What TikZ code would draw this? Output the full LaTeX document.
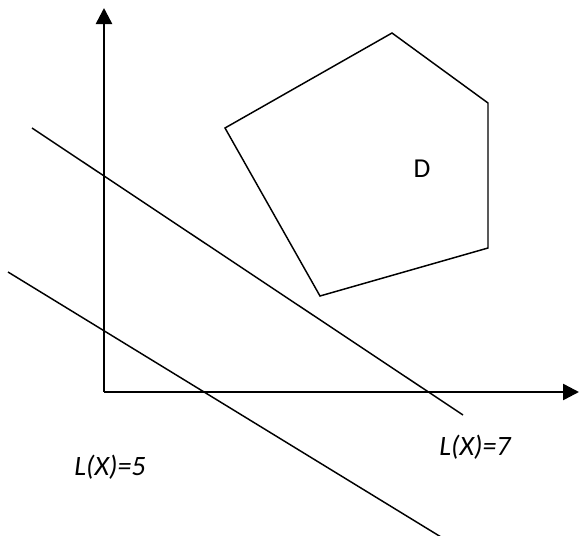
\documentclass[tikz,border=0pt]{standalone}
\usepackage{fontspec}
\setmainfont{Carlito}
\usetikzlibrary{arrows.meta}

\begin{document}
\begin{tikzpicture}[
        x=0.75pt, y=-0.75pt,
        font=\fontsize{20.5}{24}\selectfont,
        axis/.style={
            line width=1.9pt,
            -{Triangle[length=12pt,width=12pt]}
        },
        level/.style={line width=1.1pt},
        region/.style={line width=1.1pt, line join=miter},
        label/.style={font=\fontsize{21}{25}\selectfont\itshape, inner sep=0pt}
    ]

    \useasboundingbox (0,0) rectangle (579,536);

    % axes
    \coordinate (origin) at (104,392);
    \coordinate (ytop) at (104,8);
    \coordinate (xend) at (579,392);
    \draw[axis] (origin) -- (ytop);
    \draw[axis] (origin) -- (xend);

    % feasible region D
    \coordinate (p1) at (225,128);
    \coordinate (p2) at (392,33);
    \coordinate (p3) at (488,103);
    \coordinate (p4) at (488,248);
    \coordinate (p5) at (320,296);
    \draw[region] (p1) -- (p2) -- (p3) -- (p4) -- (p5) -- cycle;
    \node (dlabel) at (422,169) {D};

    % level lines
    \coordinate (sevenA) at (32,128);
    \coordinate (sevenB) at (463,415);
    \coordinate (fiveA) at (8,272);
    \coordinate (fiveB) at (441,537);
    \draw[level] (sevenA) -- (sevenB);
    \draw[level] (fiveA) -- (fiveB);

    \node[label] (seven) at (475,447) {L(X)=7};
    \node[label] (five) at (110,467) {L(X)=5};

\end{tikzpicture}
\end{document}
